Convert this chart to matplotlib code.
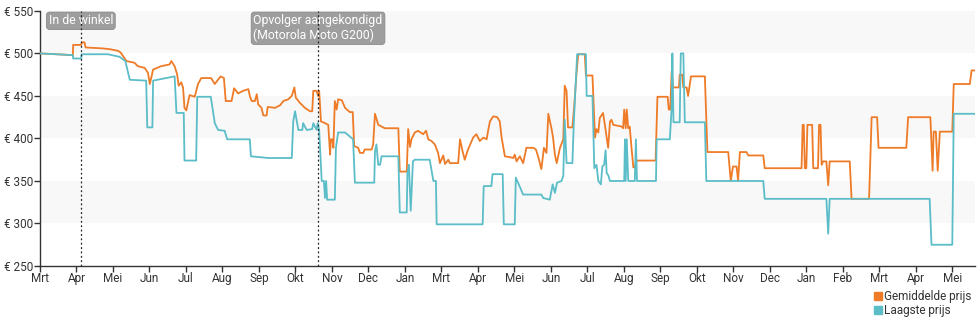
import matplotlib
matplotlib.use("Agg")
import matplotlib.pyplot as plt
from matplotlib.lines import Line2D

plt.rcParams['font.family'] = ['Roboto', 'DejaVu Sans']

# x positions are in months since the first tick ("Mrt")
month_labels = ["Mrt", "Apr", "Mei", "Jun", "Jul", "Aug", "Sep", "Okt", "Nov", "Dec", "Jan",
                "Mrt", "Apr", "Mei", "Jun", "Jul", "Aug", "Sep", "Okt", "Nov", "Dec", "Jan",
                "Feb", "Mrt", "Apr", "Mei"]

avg_x = [0.00, 0.90, 0.91, 1.13, 1.15, 1.22, 1.25, 1.68, 1.91, 2.14, 2.21, 2.37, 2.59, 2.68, 2.87,
         2.96, 3.01, 3.10, 3.32, 3.55, 3.60, 3.69, 3.76, 3.80, 3.87, 3.92, 3.96, 4.01, 4.10, 4.24,
         4.33, 4.42, 4.69, 4.79, 4.95, 5.04, 5.09, 5.25, 5.32, 5.43, 5.57, 5.71, 5.75, 5.80, 5.89,
         5.94, 5.98, 6.07, 6.12, 6.21, 6.24, 6.44, 6.58, 6.67, 6.80, 6.90, 6.97, 7.01, 7.12, 7.26,
         7.40, 7.46, 7.49, 7.58, 7.62, 7.65, 7.70, 7.81, 7.90, 7.95, 7.97, 8.01, 8.04, 8.08, 8.13,
         8.17, 8.27, 8.36, 8.49, 8.57, 8.61, 8.72, 8.77, 8.86, 8.90, 9.09, 9.13, 9.18, 9.27, 9.36,
         9.45, 9.82, 9.86, 10.05, 10.09, 10.14, 10.18, 10.27, 10.36, 10.50, 10.58, 10.64, 10.73,
         10.82, 10.91, 10.96, 11.05, 11.10, 11.19, 11.23, 11.46, 11.51, 11.58, 11.64, 11.73, 11.87,
         11.96, 12.05, 12.15, 12.24, 12.28, 12.33, 12.42, 12.53, 12.60, 12.65, 12.74, 12.88, 12.97,
         13.01, 13.06, 13.15, 13.24, 13.33, 13.52, 13.59, 13.65, 13.74, 13.81, 13.88, 13.93, 14.02,
         14.06, 14.11, 14.16, 14.25, 14.34, 14.38, 14.43, 14.47, 14.59, 14.64, 14.70, 14.75, 14.93,
         14.96, 15.14, 15.21, 15.25, 15.30, 15.34, 15.43, 15.48, 15.53, 15.57, 15.62, 15.66, 15.71,
         15.94, 15.98, 16.01, 16.05, 16.08, 16.12, 16.16, 16.21, 16.26, 16.30, 16.35, 16.87, 16.92,
         17.20, 17.23, 17.27, 17.31, 17.35, 17.51, 17.53, 17.60, 17.63, 17.72, 17.76, 17.84, 18.22,
         18.29, 18.86, 18.93, 18.99, 19.09, 19.13, 19.18, 19.36, 19.41, 19.82, 19.86, 20.87, 20.90,
         20.93, 20.96, 21.00, 21.03, 21.16, 21.19, 21.32, 21.35, 21.39, 21.42, 21.46, 21.55, 21.60,
         21.64, 22.19, 22.24, 22.72, 22.79, 22.94, 22.98, 23.74, 23.79, 24.40, 24.46, 24.49, 24.55,
         24.60, 24.66, 25.00, 25.04, 25.48, 25.53, 25.62]
avg_y = [500, 498, 510, 510, 513, 513, 507, 506, 505, 503, 501, 491, 489, 485, 483,
         477, 464, 481, 485, 487, 491, 485, 475, 462, 466, 460, 436, 433, 451, 449,
         464, 471, 471, 464, 473, 471, 444, 444, 459, 453, 456, 458, 450, 444, 444,
         452, 440, 436, 427, 427, 437, 436, 439, 444, 446, 450, 460, 448, 442, 436,
         432, 432, 456, 456, 450, 456, 420, 418, 416, 381, 399, 399, 389, 444, 434,
         446, 445, 436, 431, 431, 391, 389, 383, 383, 387, 387, 393, 429, 416, 414,
         412, 412, 361, 361, 411, 390, 399, 407, 409, 405, 409, 399, 397,
         393, 383, 371, 380, 370, 375, 371, 371, 399, 385, 375, 387, 401,
         405, 397, 401, 399, 409, 420, 426, 425, 420, 401, 379, 378, 377,
         381, 373, 379, 371, 389, 389, 387, 379, 364, 389, 383, 429, 411,
         401, 381, 371, 389, 399, 462, 456, 413, 413, 438, 475, 499, 499,
         474, 474, 401, 411, 407, 424, 430, 416, 401, 389, 420, 422, 416,
         414, 412, 434, 412, 434, 412, 414, 389, 366, 366, 374, 374, 449,
         449, 434, 434, 479, 460, 460, 475, 475, 460, 460, 450, 473, 473,
         384, 384, 350, 367, 367, 350, 384, 384, 380, 380, 365, 365, 416,
         416, 365, 365, 416, 416, 365, 365, 416, 416, 369, 373, 373, 345,
         373, 373, 329, 329, 425, 425, 389, 389, 425, 425, 362, 408, 408,
         362, 408, 408, 464, 464, 480, 480]

low_x = [0.00, 0.90, 0.91, 1.13, 1.14, 1.86, 2.18, 2.34, 2.46, 2.91, 2.94, 3.08, 3.10, 3.69, 3.74,
         3.94, 3.96, 4.28, 4.31, 4.68, 4.79, 4.88, 5.06, 5.13, 5.75, 5.78, 6.26, 6.90, 6.94, 6.99,
         7.08, 7.19, 7.21, 7.31, 7.46, 7.49, 7.58, 7.61, 7.65, 7.72, 7.78, 7.81, 7.84, 7.87, 8.08,
         8.11, 8.17, 8.36, 8.58, 8.63, 9.16, 9.18, 9.22, 9.27, 9.32, 9.36, 9.82, 9.86, 10.05, 10.07,
         10.11, 10.16, 10.22, 10.27, 10.68, 10.78, 10.85, 10.87, 12.13, 12.16, 12.37, 12.40, 12.68,
         12.71, 13.01, 13.04, 13.10, 13.24, 13.74, 13.79, 13.97, 14.05, 14.11, 14.17, 14.29, 14.34,
         14.38, 14.43, 14.59, 14.63, 14.68, 14.72, 14.96, 14.98, 15.14, 15.19, 15.25, 15.30, 15.37,
         15.41, 15.46, 15.50, 15.53, 15.57, 15.62, 16.01, 16.03, 16.05, 16.08, 16.12, 16.30, 16.33,
         16.36, 16.88, 16.90, 17.26, 17.31, 17.33, 17.36, 17.53, 17.56, 17.63, 17.67, 18.22, 18.26,
         19.82, 19.86, 21.55, 21.60, 21.64, 24.38, 24.43, 25.00, 25.04, 25.62]
low_y = [500, 498, 494, 494, 499, 499, 496, 491, 469, 468, 413, 413, 468, 473, 430,
         430, 374, 374, 449, 449, 418, 410, 409, 399, 399, 379, 377, 377, 420, 432,
         410, 410, 418, 410, 411, 418, 410, 418, 410, 350, 350, 330, 350, 328, 328,
         389, 407, 407, 399, 348, 348, 385, 393, 369, 369, 379, 379, 313, 313, 360,
         369, 315, 373, 375, 375, 350, 350, 299, 299, 344, 344, 358, 358,
         299, 299, 354, 348, 334, 334, 330, 328, 346, 336, 348, 350, 356,
         422, 371, 371, 420, 464, 499, 499, 450, 450, 365, 369, 350, 346,
         367, 369, 386, 359, 357, 350, 350, 399, 350, 399, 350, 350, 399,
         350, 350, 399, 399, 436, 500, 419, 419, 500, 500, 419, 419, 350,
         350, 329, 329, 288, 329, 329, 275, 275, 429, 429]

events_x = [1.12, 7.62]
events_label = ["In de winkel", "Opvolger aangekondigd\n(Motorola Moto G200)"]

ORANGE = "#ee7b27"
TEAL = "#5bbdc8"

fig = plt.figure(figsize=(9.8, 3.25), dpi=100)
ax = fig.add_axes([0.0408, 0.1815, 0.954, 0.785])

xmax = 25.62
ax.set_xlim(0, xmax)
ax.set_ylim(250, 550)

# alternating bands
for lo in (300, 400, 500):
    ax.axhspan(lo, lo + 50, color="#f8f8f8", zorder=0, lw=0)

ax.plot(avg_x, avg_y, color=ORANGE, lw=1.3, zorder=3, solid_joinstyle="round")
ax.plot(low_x, low_y, color=TEAL, lw=1.3, zorder=4, solid_joinstyle="round")

for ex, lab in zip(events_x, events_label):
    ax.axvline(ex, color="#222222", lw=0.9, ls=(0, (1.5, 2)), zorder=6)
    ax.text(ex, 546, lab, ha="center", va="top", fontsize=8.8, color="white",
            multialignment="left", zorder=5, linespacing=1.15,
            bbox=dict(boxstyle="round,pad=0.18,rounding_size=0.25", fc="#9e9e9e",
                      ec="#8a8a8a", lw=0.6))

yt = [250, 300, 350, 400, 450, 500, 550]
ax.set_yticks(yt)
ax.set_yticklabels([f"€ {v}" for v in yt])
ax.set_xticks(list(range(len(month_labels))))
ax.set_xticklabels(month_labels)

for s in ("top", "right"):
    ax.spines[s].set_visible(False)
for s in ("left", "bottom"):
    ax.spines[s].set_color("#333333")
    ax.spines[s].set_linewidth(1.0)
ax.tick_params(axis="both", labelsize=8.5, colors="#333333", length=4, width=1, pad=1)
ax.tick_params(axis="x", pad=0)

handles = [Line2D([], [], marker="s", ls="none", color=ORANGE, markersize=5.5),
           Line2D([], [], marker="s", ls="none", color=TEAL, markersize=5.5)]
fig.legend(handles, ["Gemiddelde prijs", "Laagste prijs"], loc="lower right",
           bbox_to_anchor=(1.0, 0.0), frameon=False, fontsize=8.5, handlelength=0.6,
           handletextpad=0.2, labelspacing=0.05, borderaxespad=0.3, labelcolor="#333333")

fig.savefig("out.png", dpi=100)
